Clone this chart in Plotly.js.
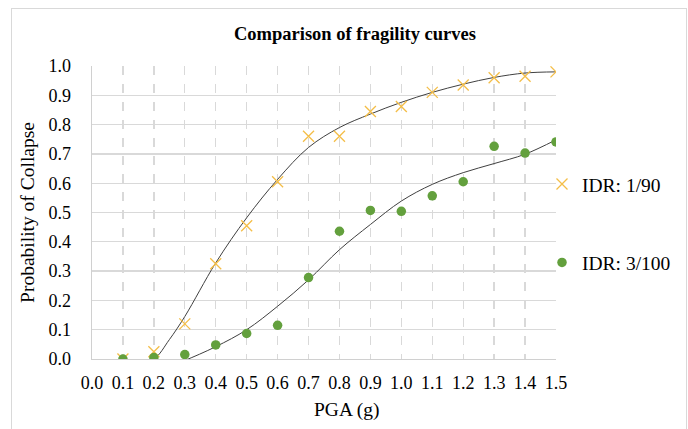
<!DOCTYPE html>
<html>
<head>
<meta charset="utf-8">
<script src="https://cdn.plot.ly/plotly-3.0.1.min.js"></script>
<style>
  html, body { margin: 0; padding: 0; background: #fff; }
  #wrap { position: relative; width: 688px; height: 429px; overflow: hidden; }
  #chart { position: absolute; left: 0; top: 0; width: 688px; height: 429px; }
  #frame { position: absolute; left: 11px; top: 8px; width: 674px; height: 430px;
           border: 1px solid #d9d9d9; pointer-events: none; }
</style>
</head>
<body>
<div id="wrap">
  <div id="chart"></div>
  <div id="frame"></div>
</div>
<script>
// PGA (g)
const pga = [0.1, 0.2, 0.3, 0.4, 0.5, 0.6, 0.7, 0.8, 0.9, 1.0, 1.1, 1.2, 1.3, 1.4, 1.5];
// Observed probability of collapse
const idr190 = [0.0, 0.025, 0.12, 0.325, 0.455, 0.605, 0.76, 0.76, 0.845, 0.862, 0.91, 0.935, 0.96, 0.965, 0.98];
const idr3100 = [0.0, 0.005, 0.015, 0.048, 0.087, 0.115, 0.278, 0.436, 0.507, 0.504, 0.557, 0.605, 0.726, 0.703, 0.741];
// Fitted curves
const fitX = [0.1, 0.15, 0.2, 0.25, 0.3, 0.4, 0.5, 0.6, 0.7, 0.8, 0.9, 1.0, 1.1, 1.2, 1.3, 1.4, 1.5];
const fit190 = [0.003, -0.01, 0.0, 0.066, 0.145, 0.328, 0.482, 0.613, 0.722, 0.79, 0.836, 0.876, 0.91, 0.938, 0.961, 0.976, 0.98];
const fit3100 = [-0.06, -0.06, -0.045, -0.025, -0.005, 0.042, 0.10, 0.18, 0.27, 0.373, 0.459, 0.539, 0.596, 0.636, 0.667, 0.699, 0.748];
const xTicks = [0.0, 0.1, 0.2, 0.3, 0.4, 0.5, 0.6, 0.7, 0.8, 0.9, 1.0, 1.1, 1.2, 1.3, 1.4, 1.5];
const yTicks = [0.0, 0.1, 0.2, 0.3, 0.4, 0.5, 0.6, 0.7, 0.8, 0.9, 1.0];

const serif = "'Liberation Serif', 'Times New Roman', serif";
const gold = '#F4BE48';
const green = '#63A03D';

const traces = [
  { x: fitX, y: fit190, mode: 'lines', line: { color: '#404040', width: 1, shape: 'spline', smoothing: 1 },
    showlegend: false, hoverinfo: 'skip' },
  { x: fitX, y: fit3100, mode: 'lines', line: { color: '#404040', width: 1, shape: 'spline', smoothing: 1 },
    showlegend: false, hoverinfo: 'skip' },
  { x: pga, y: idr190, mode: 'markers', name: 'IDR: 1/90', legendgroup: 'a',
    marker: { symbol: 'x-thin', size: 11, line: { color: gold, width: 1.3 }, color: gold } },
  { x: pga, y: idr3100, mode: 'markers', name: 'IDR: 3/100', legendgroup: 'b',
    marker: { symbol: 'circle', size: 9.5, color: green } }
];

const layout = {
  width: 688, height: 429,
  margin: { l: 92, r: 132, t: 66, b: 70, pad: 0, autoexpand: false },
  paper_bgcolor: '#ffffff', plot_bgcolor: '#ffffff',
  font: { family: serif, color: '#000000', size: 18 },
  title: { text: 'Comparison of fragility curves', font: { family: serif, size: 18.5, color: '#000', weight: 'bold' },
           x: 355 / 688, xanchor: 'center', xref: 'container', y: 1 - 34 / 429, yanchor: 'middle', yref: 'container' },
  xaxis: {
    range: [0, 1.5], tickvals: xTicks, ticktext: xTicks.map(v => v.toFixed(1)),
    showgrid: true, gridcolor: '#d9d9d9', griddash: 'dash', gridwidth: 1.3,
    zeroline: false, showline: true, linecolor: '#d0d0d0', linewidth: 1.3,
    ticks: '', ticklabelstandoff: 7, tickfont: { size: 18, family: serif, color: '#000' },
    fixedrange: true, automargin: false
  },
  yaxis: {
    range: [0, 1], tickvals: yTicks, ticktext: yTicks.map(v => v.toFixed(1)),
    showgrid: true, gridcolor: '#d9d9d9', gridwidth: 1.3,
    zeroline: false, showline: true, linecolor: '#d0d0d0', linewidth: 1.3,
    ticks: '', ticklabelstandoff: 16, tickfont: { size: 18, family: serif, color: '#000' },
    title: { text: 'Probability of Collapse', font: { size: 19.5, family: serif, color: '#000' }, standoff: 8 },
    fixedrange: true, automargin: false
  },
  annotations: [
    { text: 'PGA (g)', xref: 'paper', yref: 'paper', x: (347 - 92) / 464, y: (359.3 - 410) / 293.3,
      xanchor: 'center', yanchor: 'middle', showarrow: false,
      font: { size: 19.5, family: serif, color: '#000' } }
  ],
  legend: {
    xref: 'paper', yref: 'paper',
    x: (542 - 92) / 464, xanchor: 'left', y: (359.3 - 165) / 293.3, yanchor: 'top',
    font: { size: 19.5, family: serif, color: '#000' },
    bgcolor: 'rgba(0,0,0,0)', traceorder: 'grouped', tracegroupgap: 50,
    itemwidth: 30
  },
  showlegend: true
};

Plotly.newPlot('chart', traces, layout, { staticPlot: true, displayModeBar: false });
</script>
</body>
</html>
